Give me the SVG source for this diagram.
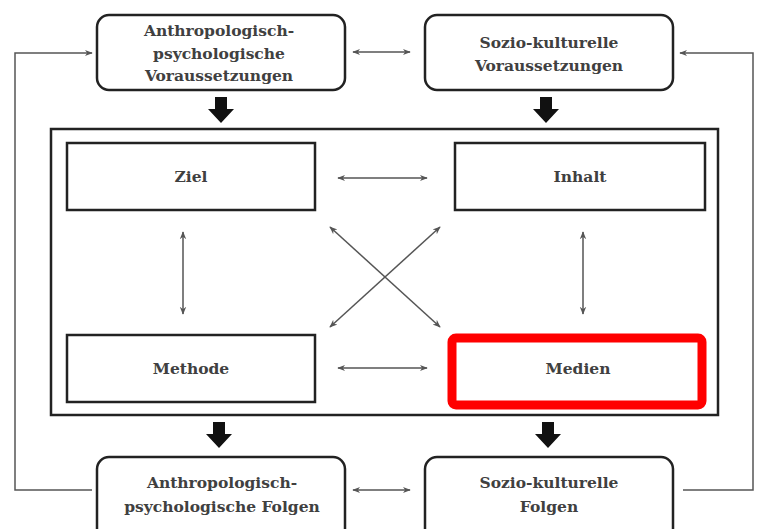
<svg xmlns="http://www.w3.org/2000/svg" width="757" height="529" viewBox="0 0 757 529">
  <style>
    .node { fill: #fff; stroke: #222; stroke-width: 2.5; }
    .label { font-family: "DejaVu Serif", "Liberation Serif", serif; font-size: 15.5px; font-weight: bold; fill: #404040; text-anchor: middle; }
    .thin { fill: none; stroke: #555; stroke-width: 1.5; }
    .block { fill: #111; }
  </style>
  <defs>
    <marker id="tip" viewBox="0 0 10 10" refX="9" refY="5" markerWidth="8" markerHeight="8" markerUnits="userSpaceOnUse" orient="auto-start-reverse">
      <path d="M0,1 L10,5 L0,9 L3,5 Z" fill="#555"/>
    </marker>
    <path id="fat" d="M-6,0 H6 V12 H13 L0,26 L-13,12 H-6 Z"/>
  </defs>

  <rect width="757" height="529" fill="#fff"/>

  <!-- outer frame around the four teaching elements -->
  <rect id="frame" x="51" y="129" width="667" height="286" fill="none" stroke="#222" stroke-width="2.5"/>

  <g id="voraussetzungen-anthro">
    <rect class="node" x="97" y="15" width="248" height="75" rx="12"/>
    <text class="label" x="219" y="36">Anthropologisch-</text>
    <text class="label" x="219" y="59">psychologische</text>
    <text class="label" x="219" y="81">Voraussetzungen</text>
  </g>
  <g id="voraussetzungen-sozio">
    <rect class="node" x="425" y="15" width="248" height="75" rx="12"/>
    <text class="label" x="549" y="48">Sozio-kulturelle</text>
    <text class="label" x="549" y="71">Voraussetzungen</text>
  </g>

  <g id="ziel">
    <rect class="node" x="67" y="143" width="248" height="67"/>
    <text class="label" x="191" y="182">Ziel</text>
  </g>
  <g id="inhalt">
    <rect class="node" x="455" y="143" width="250" height="67"/>
    <text class="label" x="580" y="182">Inhalt</text>
  </g>
  <g id="methode">
    <rect class="node" x="67" y="335" width="248" height="67"/>
    <text class="label" x="191" y="374">Methode</text>
  </g>
  <g id="medien">
    <rect x="452" y="338" width="250" height="67" rx="4" fill="#fff" stroke="#f00" stroke-width="9"/>
    <text class="label" x="578" y="374">Medien</text>
  </g>

  <g id="folgen-anthro">
    <rect class="node" x="97" y="457" width="248" height="90" rx="12"/>
    <text class="label" x="222" y="488">Anthropologisch-</text>
    <text class="label" x="222" y="512">psychologische Folgen</text>
  </g>
  <g id="folgen-sozio">
    <rect class="node" x="425" y="457" width="248" height="90" rx="12"/>
    <text class="label" x="549" y="488">Sozio-kulturelle</text>
    <text class="label" x="549" y="512">Folgen</text>
  </g>

  <g id="connectors">
    <!-- heavy downward arrows -->
    <use href="#fat" class="block" x="221" y="97"/>
    <use href="#fat" class="block" x="546" y="97"/>
    <use href="#fat" class="block" x="219" y="422"/>
    <use href="#fat" class="block" x="548" y="422"/>

    <!-- links between the outer boxes -->
    <line class="thin" x1="353" y1="52" x2="410" y2="52" marker-start="url(#tip)" marker-end="url(#tip)"/>
    <line class="thin" x1="353" y1="490" x2="410" y2="490" marker-start="url(#tip)" marker-end="url(#tip)"/>

    <!-- feedback loops from the consequences back to the preconditions -->
    <polyline class="thin" points="92,490 15,490 15,53 92,53" marker-end="url(#tip)"/>
    <polyline class="thin" points="683,490 753,490 753,53 680,53" marker-end="url(#tip)"/>

    <!-- relations inside the frame -->
    <line class="thin" x1="338" y1="178" x2="427" y2="178" marker-start="url(#tip)" marker-end="url(#tip)"/>
    <line class="thin" x1="338" y1="368" x2="427" y2="368" marker-start="url(#tip)" marker-end="url(#tip)"/>
    <line class="thin" x1="183" y1="232" x2="183" y2="314" marker-start="url(#tip)" marker-end="url(#tip)"/>
    <line class="thin" x1="583" y1="232" x2="583" y2="314" marker-start="url(#tip)" marker-end="url(#tip)"/>
    <line class="thin" x1="330" y1="227" x2="440" y2="327" marker-start="url(#tip)" marker-end="url(#tip)"/>
    <line class="thin" x1="440" y1="227" x2="330" y2="327" marker-start="url(#tip)" marker-end="url(#tip)"/>
  </g>
</svg>
